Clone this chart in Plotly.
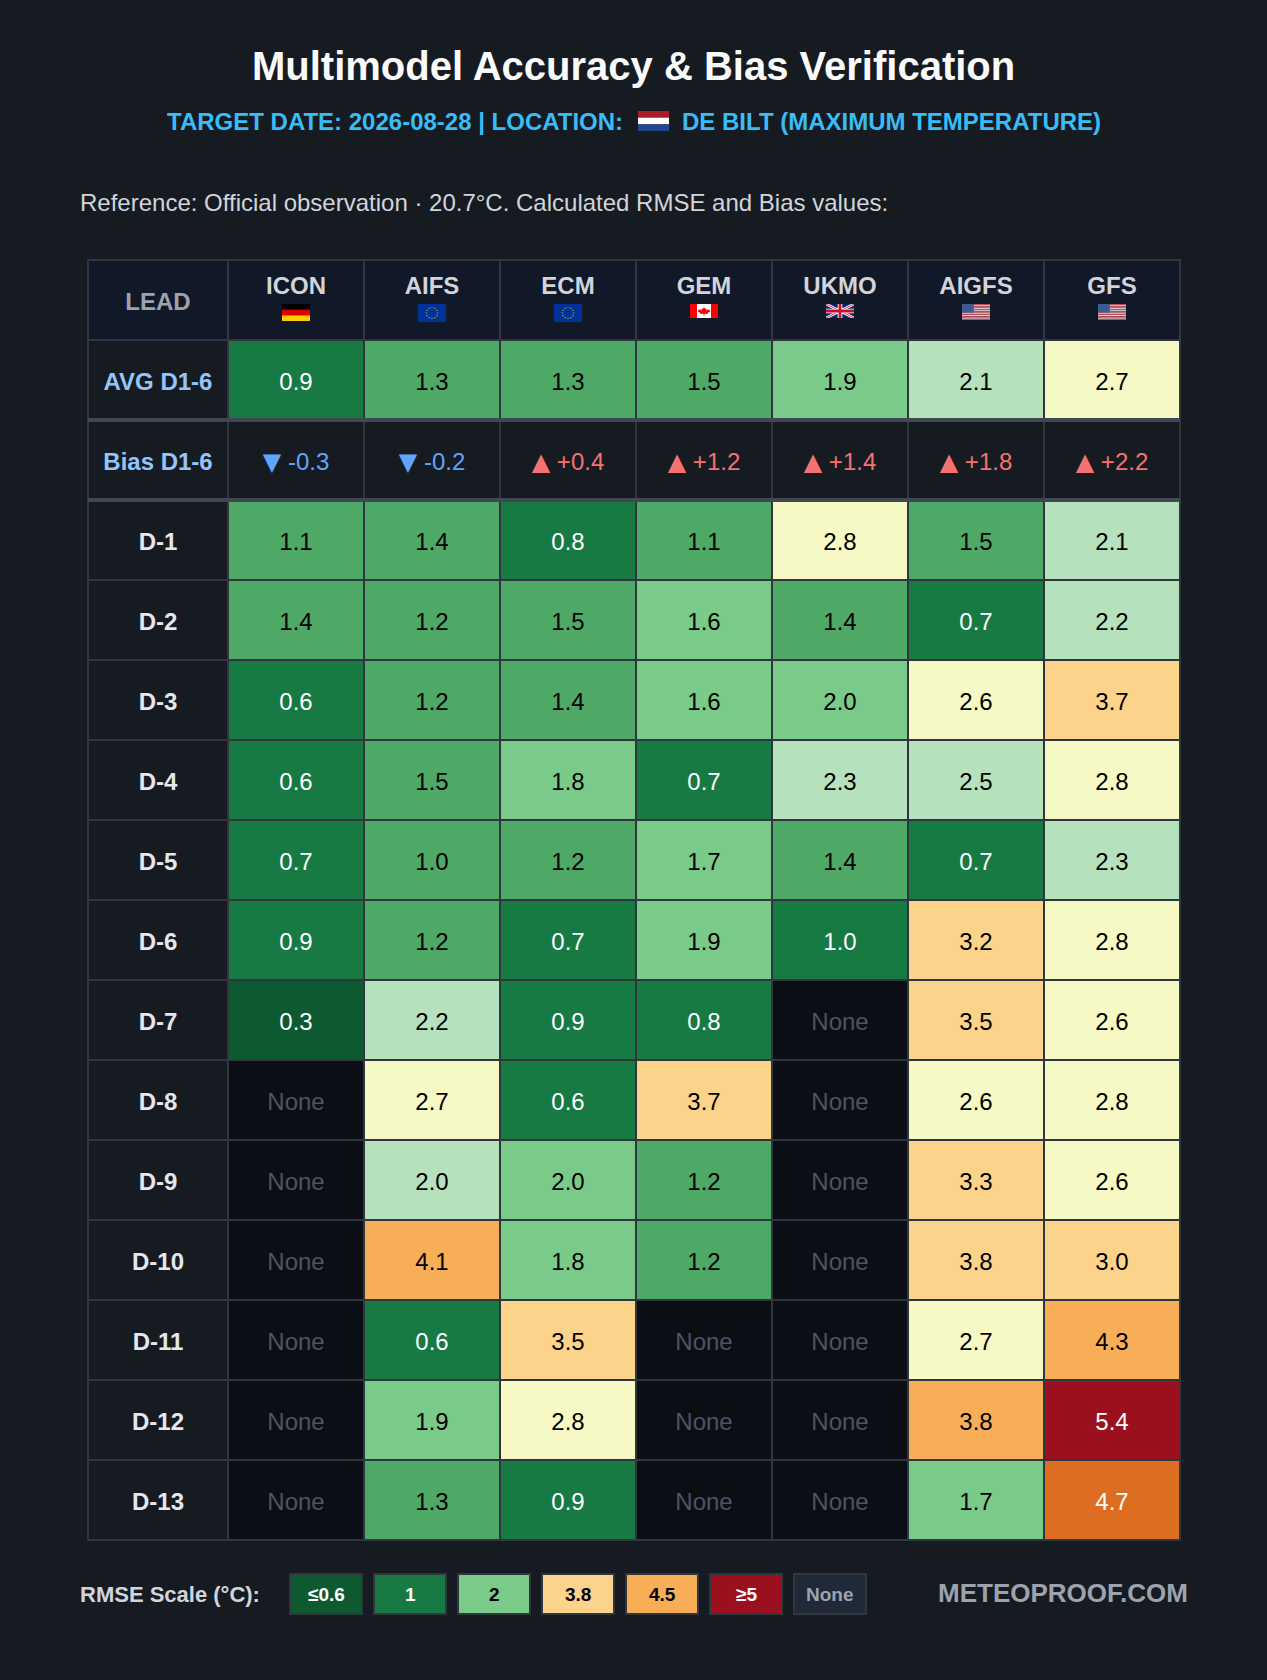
"""
Multimodel accuracy and bias table, drawn as a heatmap with text on top
"""

import base64
import math

import numpy as np
import plotly.graph_objects as go

W, H = 1267, 1680

models = ['ICON', 'AIFS', 'ECM', 'GEM', 'UKMO', 'AIGFS', 'GFS']
model_flags = ['de', 'eu', 'eu', 'ca', 'uk', 'us', 'us']
leads = ['D-1', 'D-2', 'D-3', 'D-4', 'D-5', 'D-6', 'D-7', 'D-8', 'D-9', 'D-10', 'D-11', 'D-12', 'D-13']

avg_rmse = [0.9, 1.3, 1.3, 1.5, 1.9, 2.1, 2.7]
bias = [-0.3, -0.2, 0.4, 1.2, 1.4, 1.8, 2.2]

# second decimal is a guess, only where the cell colour shows which side of a bin it is on
icon = [1.1, 1.4, 0.6, 0.6, 0.7, 0.9, 0.3, None, None, None, None, None, None]
aifs = [1.4, 1.2, 1.2, 1.5, 1.04, 1.2, 2.2, 2.7, 2.04, 4.1, 0.6, 1.9, 1.3]
ecm = [0.8, 1.5, 1.4, 1.8, 1.2, 0.7, 0.9, 0.6, 2.0, 1.8, 3.5, 2.8, 0.9]
gem = [1.1, 1.6, 1.6, 0.7, 1.7, 1.9, 0.8, 3.7, 1.2, 1.2, None, None, None]
ukmo = [2.8, 1.4, 2.0, 2.3, 1.4, 1.0, None, None, None, None, None, None, None]
aigfs = [1.5, 0.7, 2.6, 2.5, 0.7, 3.2, 3.5, 2.6, 3.3, 3.8, 2.7, 3.84, 1.7]
gfs = [2.1, 2.2, 3.7, 2.8, 2.3, 2.8, 2.6, 2.8, 2.6, 3.04, 4.3, 5.4, 4.7]

rmse_bins = [0.5, 1.0, 1.5, 2.0, 2.5, 3.0, 3.8, 4.5, 5.0]
rmse_colors = ['#0e5a30', '#177a42', '#4ea866', '#7acb8a', '#b5e2bc', '#f7f9c4',
               '#fcd38b', '#f8ae57', '#dd6d20', '#9a101e']
white_text_bins = [0, 1, 8, 9]

legend_labels = ['≤0.6', '1', '2', '3.8', '4.5', '≥5', 'None']
legend_fills = ['#0e5a30', '#177a42', '#7acb8a', '#fcd38b', '#f8ae57', '#9a101e', '#1f2937']
legend_text = ['#ffffff', '#ffffff', '#000000', '#000000', '#000000', '#ffffff', '#9ca3af']

BG = '#161b22'
GRID = '#30363d'
FONT = 'Liberation Sans, Arial, sans-serif'
TEXT_DROP = 0.05  # text sits a little under the middle of each row

NONE_CODE, HEADER_CODE, LABEL_CODE = 10, 11, 12
codes_colors = rmse_colors + ['#0b0e14', '#111827', '#161b22']


def to_code(value):
    if value is None:
        return NONE_CODE
    return int(np.digitize(value, rmse_bins, right=True))


def svg_uri(width, height, body):
    svg = f'<svg xmlns="http://www.w3.org/2000/svg" width="{width * 4}" height="{height * 4}" viewBox="0 0 {width} {height}" preserveAspectRatio="none">{body}</svg>'
    return 'data:image/svg+xml;base64,' + base64.b64encode(svg.encode()).decode()


def flag_uri(code):
    if code == 'de':
        return svg_uri(3, 3, '<rect width="3" height="1" fill="#000"/><rect y="1" width="3" height="1" fill="#d00"/><rect y="2" width="3" height="1" fill="#ffce00"/>')
    if code == 'nl':
        return svg_uri(3, 3, '<rect width="3" height="1" fill="#ae1c28"/><rect y="1" width="3" height="1" fill="#fff"/><rect y="2" width="3" height="1" fill="#21468b"/>')
    if code == 'eu':
        stars = ''.join(
            f'<circle cx="{30 + 12 * math.sin(i * math.pi / 6):.2f}" cy="{20 + 12 * math.cos(i * math.pi / 6):.2f}" r="1.6" fill="#a89a3a"/>'
            for i in range(12)
        )
        return svg_uri(60, 40, '<rect width="60" height="40" fill="#003399"/>' + stars)
    if code == 'ca':
        leaf = '20,7 21.5,10 23.5,9.5 23,14 25.5,11.5 26.5,13 28.5,12.5 28,15 29,16 25,19.5 25.5,21.5 20.7,21 20.7,24 19.3,24 19.3,21 14.5,21.5 15,19.5 11,16 12,15 11.5,12.5 13.5,13 14.5,11.5 17,14 16.5,9.5 18.5,10'
        return svg_uri(40, 30, f'<rect width="40" height="30" fill="#fff"/><rect width="10" height="30" fill="#f00"/><rect x="30" width="10" height="30" fill="#f00"/><polygon points="{leaf}" fill="#f00"/>')
    if code == 'uk':
        return svg_uri(60, 30, '<rect width="60" height="30" fill="#012169"/>'
                       '<path d="M0,0L60,30M60,0L0,30" stroke="#fff" stroke-width="6"/>'
                       '<path d="M0,0L60,30M60,0L0,30" stroke="#c8102e" stroke-width="2"/>'
                       '<path d="M30,0V30M0,15H60" stroke="#fff" stroke-width="10"/>'
                       '<path d="M30,0V30M0,15H60" stroke="#c8102e" stroke-width="6"/>')
    stripes = ''.join(f'<rect y="{i}" width="19" height="1" fill="{"#c24a5a" if i % 2 == 0 else "#f3dfe2"}"/>' for i in range(13))
    return svg_uri(19, 13, stripes + '<rect width="8" height="7" fill="#3f5a8f"/>')


def px(x):
    return x / W


def py(y):
    return 1 - y / H


def bias_label(b):
    arrow = '▼' if b < 0 else '▲'
    return f'<span style="font-family:DejaVu Sans">{arrow}</span> {b:+.1f}'


series = [icon, aifs, ecm, gem, ukmo, aigfs, gfs]
rows = [list(r) for r in zip(*series)]

# table grid: header, average, bias, then one row per lead
z = [[HEADER_CODE] * 8]
z.append([LABEL_CODE] + [to_code(v) for v in avg_rmse])
z.append([LABEL_CODE] * 8)
for r in rows:
    z.append([LABEL_CODE] + [to_code(v) for v in r])

first_col = 140 / 136
x_edges = [-first_col] + list(range(8))
y_edges = list(range(len(z) + 1))
colorscale = []
for i, c in enumerate(codes_colors):
    colorscale += [[i / len(codes_colors), c], [(i + 1) / len(codes_colors), c]]

fig = go.Figure()
fig.add_trace(go.Heatmap(
    x=x_edges, y=y_edges, z=z,
    colorscale=colorscale, zmin=-0.5, zmax=len(codes_colors) - 0.5,
    showscale=False, xgap=2, ygap=2, hoverinfo='skip',
))

# rmse cell labels
val_x, val_y, val_text, val_color = [], [], [], []
for j, v in enumerate(avg_rmse):
    val_x.append(j + 0.5)
    val_y.append(1.5 + TEXT_DROP)
    val_text.append(f'{v:.1f}')
    val_color.append('#ffffff' if to_code(v) in white_text_bins else '#000000')
for i, r in enumerate(rows):
    for j, v in enumerate(r):
        val_x.append(j + 0.5)
        val_y.append(i + 3.5 + TEXT_DROP)
        if v is None:
            val_text.append('None')
            val_color.append('#4b5563')
        else:
            val_text.append(f'{v:.1f}')
            val_color.append('#ffffff' if to_code(v) in white_text_bins else '#000000')
fig.add_trace(go.Scatter(
    x=val_x, y=val_y, text=val_text, mode='text',
    textfont=dict(family=FONT, size=24, color=val_color),
    textposition='middle center', hoverinfo='skip', showlegend=False,
))

# bias row
fig.add_trace(go.Scatter(
    x=[j + 0.5 for j in range(len(bias))], y=[2.5 + TEXT_DROP] * len(bias),
    text=[bias_label(b) for b in bias], mode='text',
    textfont=dict(family=FONT, size=24, color=['#60a5fa' if b < 0 else '#f87171' for b in bias]),
    textposition='middle center', hoverinfo='skip', showlegend=False,
))

# row labels
label_col = -first_col / 2
fig.add_trace(go.Scatter(
    x=[label_col] * (len(leads) + 2), y=[1.5 + TEXT_DROP, 2.5 + TEXT_DROP] + [i + 3.5 + TEXT_DROP for i in range(len(leads))],
    text=['AVG D1-6', 'Bias D1-6'] + leads, mode='text',
    textfont=dict(family=FONT, size=24, weight='bold', color=['#93c5fd', '#93c5fd'] + ['#e5e7eb'] * len(leads)),
    textposition='middle center', hoverinfo='skip', showlegend=False,
))

# header labels
fig.add_trace(go.Scatter(
    x=[label_col], y=[0.55], text=['LEAD'], mode='text',
    textfont=dict(family=FONT, size=24, weight='bold', color='#9ca3af'),
    textposition='middle center', hoverinfo='skip', showlegend=False,
))
fig.add_trace(go.Scatter(
    x=[j + 0.5 for j in range(len(models))], y=[0.35] * len(models), text=models, mode='text',
    textfont=dict(family=FONT, size=24, weight='bold', color='#d1d5db'),
    textposition='middle center', hoverinfo='skip', showlegend=False,
))

flag_heights = {'de': 17, 'eu': 18, 'ca': 14, 'uk': 14, 'us': 16}
images = []
for j, code in enumerate(model_flags):
    images.append(dict(
        source=flag_uri(code), xref='x', yref='paper', x=j + 0.5, y=py(304),
        sizex=28 / 136, sizey=flag_heights[code] / H, xanchor='center', yanchor='top',
        sizing='stretch', layer='above',
    ))
images.append(dict(
    source=flag_uri('nl'), xref='paper', yref='paper', x=px(638), y=py(111),
    sizex=31 / W, sizey=20 / H, xanchor='left', yanchor='top', sizing='stretch', layer='above',
))

# thick separators under the average and bias rows
shapes = []
for y_line in [2, 3]:
    shapes.append(dict(
        type='line', xref='x', yref='y', x0=-first_col, x1=7, y0=y_line, y1=y_line,
        line=dict(color='#3f4753', width=4), layer='above',
    ))

annotations = [
    dict(text='Multimodel Accuracy & Bias Verification', x=px(633.5), y=py(66), size=40, color='#f9fafb', weight='bold', xanchor='center'),
    dict(text='TARGET DATE: 2026-08-28 | LOCATION:', x=px(625), y=py(122), size=24, color='#38bdf8', weight='bold', xanchor='right'),
    dict(text='DE BILT (MAXIMUM TEMPERATURE)', x=px(680), y=py(122), size=24, color='#38bdf8', weight='bold', xanchor='left'),
    dict(text='Reference: Official observation · 20.7°C. Calculated RMSE and Bias values:', x=px(78), y=py(202), size=24, color='#d1d5db', weight='normal', xanchor='left'),
    dict(text='RMSE Scale (°C):', x=px(78), y=py(1594), size=22, color='#d1d5db', weight='bold', xanchor='left'),
    dict(text='METEOPROOF.COM', x=px(936), y=py(1593), size=26, color='#9ca3af', weight='bold', xanchor='left'),
]

# legend swatches
for i, label in enumerate(legend_labels):
    left = 290 + i * 84
    shapes.append(dict(
        type='rect', xref='paper', yref='paper',
        x0=px(left), x1=px(left + 72), y0=py(1574), y1=py(1614),
        fillcolor=legend_fills[i], line=dict(color=GRID, width=2), layer='above',
    ))
    annotations.append(dict(
        text=label, x=px(left + 36), y=py(1594.5), size=19, color=legend_text[i], weight='bold', xanchor='center',
    ))

fig.update_layout(
    width=W, height=H,
    margin=dict(l=0, r=0, t=0, b=0),
    paper_bgcolor=BG,
    plot_bgcolor=GRID,
    showlegend=False,
    images=images,
    shapes=shapes,
    annotations=[
        dict(text=a['text'], x=a['x'], y=a['y'], xref='paper', yref='paper', xanchor=a['xanchor'], yanchor='middle',
             showarrow=False, font=dict(family=FONT, size=a['size'], color=a['color'], weight=a['weight']))
        for a in annotations
    ],
    xaxis=dict(domain=[px(88), px(1180)], range=[-first_col, 7], showgrid=False, zeroline=False,
               showticklabels=False, ticks='', showline=True, mirror=True, linecolor=GRID, linewidth=1),
    yaxis=dict(domain=[py(1540), py(260)], range=[16, 0], showgrid=False, zeroline=False,
               showticklabels=False, ticks='', showline=True, mirror=True, linecolor=GRID, linewidth=1),
)

# page margin off, and the same hinted text as the original page
page_js = """
document.body.style.margin = '0';
var st = document.createElement('style');
st.textContent = '.main-svg text, .main-svg tspan { text-rendering: optimizeSpeed !important; }';
document.head.appendChild(st);
"""
fig.write_html("out.html", config={'displayModeBar': False}, post_script=page_js)
